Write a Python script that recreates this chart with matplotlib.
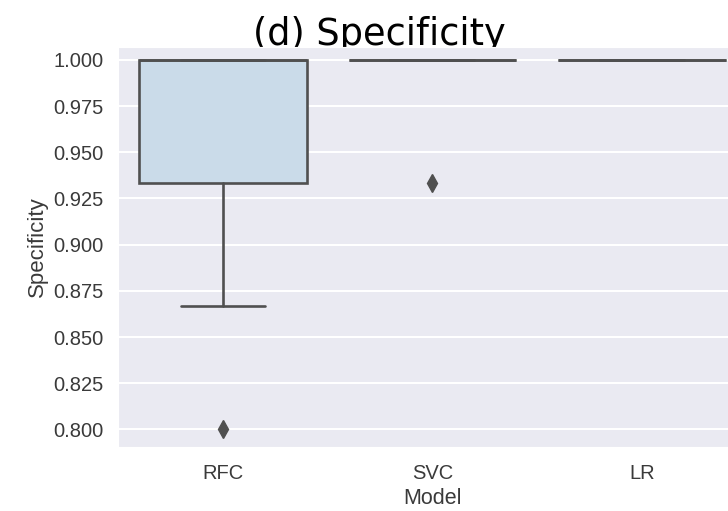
import matplotlib
matplotlib.use("Agg")
import matplotlib.pyplot as plt
import seaborn as sns

# specificity per fold
models = ["RFC", "SVC", "LR"]
rfc = [1.0, 1.0, 1.0, 1.0, 1.0, 1.0, 0.9333, 0.9333, 0.8667, 0.8]
svc = [1.0, 1.0, 1.0, 1.0, 1.0, 1.0, 1.0, 1.0, 1.0, 0.9333]
lr = [1.0, 1.0, 1.0, 1.0, 1.0, 1.0, 1.0, 1.0, 1.0, 1.0]
yticks = [0.800, 0.825, 0.850, 0.875, 0.900, 0.925, 0.950, 0.975, 1.000]
box_colors = ["#cadbe9", "#8fb6d6", "#4a86bb"]

sns.set_style("darkgrid")
plt.rcParams["font.family"] = ["Liberation Sans", "DejaVu Sans"]

fig = plt.figure(figsize=(7.28, 5.11), dpi=100)
ax = fig.add_axes([0.162, 0.125, 0.864, 0.783])

edge = "#505050"
bp = ax.boxplot([rfc, svc, lr], positions=[0, 1, 2], widths=0.8, patch_artist=True,
                whis=1.5,
                boxprops=dict(edgecolor=edge, linewidth=1.9),
                medianprops=dict(color=edge, linewidth=1.9),
                whiskerprops=dict(color=edge, linewidth=1.9),
                capprops=dict(color=edge, linewidth=1.9),
                flierprops=dict(marker="d", markerfacecolor=edge, markeredgecolor=edge,
                                markersize=9))
for patch, c in zip(bp["boxes"], box_colors):
    patch.set_facecolor(c)

ax.set_xlim(-0.5, 2.5)
ax.set_ylim(0.7904, 1.007)
ax.set_xticks([0, 1, 2])
ax.set_xticklabels(models)
ax.set_yticks(yticks)
ax.set_yticklabels(["%.3f" % v for v in yticks])
ax.tick_params(axis="both", labelsize=14.5, colors="#3a3a3a", pad=7)
ax.tick_params(axis="x", pad=9)
ax.grid(True, axis="y", color="white", linewidth=1.5)
ax.grid(False, axis="x")
ax.set_xlabel("Model", fontsize=15.5, color="#3a3a3a", labelpad=3)
ax.set_ylabel("Specificity", fontsize=16, color="#3a3a3a", labelpad=4)

# title sits behind the axes, its descenders are covered by the plot area
fig.text(379 / 728, 1 - 45 / 511, "(d) Specificity", ha="center", va="baseline",
         fontsize=26.5, family="DejaVu Sans", color="black", zorder=-1)

fig.savefig("out.png", dpi=100)
